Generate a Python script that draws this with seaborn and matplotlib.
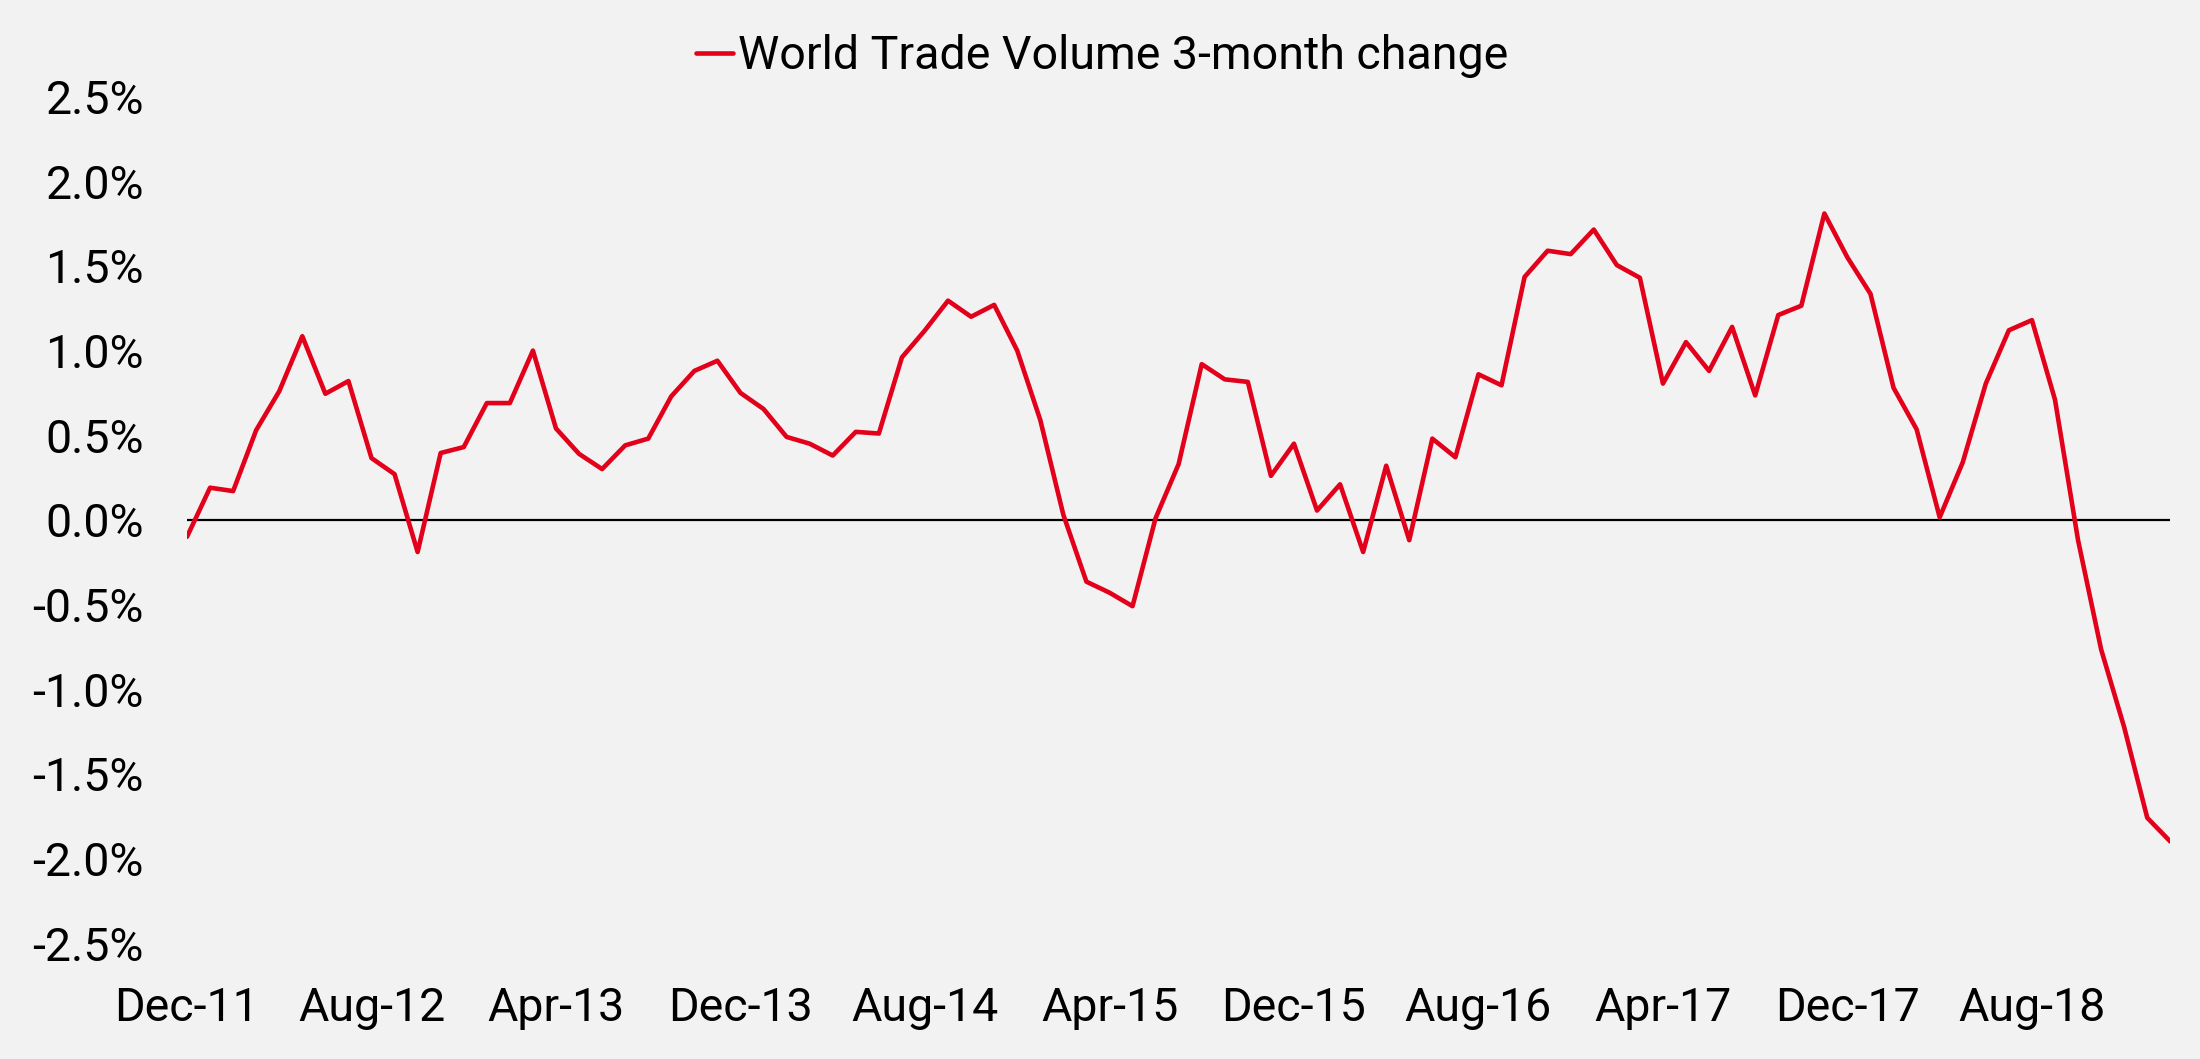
import numpy as np
import pandas as pd
import matplotlib.pyplot as plt
import seaborn as sns

# monthly series, Dec-11 .. Feb-19 (values in %)
months = pd.date_range("2011-12-01", periods=87, freq="MS")
change = [
    -0.10, 0.19, 0.17, 0.53, 0.76, 1.085, 0.745, 0.82, 0.365, 0.27,
    -0.19, 0.395, 0.43, 0.69, 0.69, 1.00, 0.54, 0.39, 0.30, 0.44,
    0.48, 0.73, 0.88, 0.94, 0.75, 0.655, 0.49, 0.45, 0.38, 0.52,
    0.51, 0.96, 1.12, 1.295, 1.20, 1.27, 1.00, 0.59, 0.03, -0.365,
    -0.43, -0.51, 0.01, 0.33, 0.92, 0.83, 0.815, 0.26, 0.45, 0.055,
    0.21, -0.19, 0.32, -0.12, 0.48, 0.37, 0.86, 0.795, 1.435, 1.59,
    1.57, 1.715, 1.505, 1.43, 0.805, 1.05, 0.88, 1.14, 0.735, 1.21,
    1.265, 1.81, 1.55, 1.335, 0.78, 0.535, 0.015, 0.34, 0.805, 1.12,
    1.18, 0.71, -0.12, -0.765, -1.225, -1.76, -1.90,
]
tick_labels = ["Dec-11", "Aug-12", "Apr-13", "Dec-13", "Aug-14", "Apr-15",
               "Dec-15", "Aug-16", "Apr-17", "Dec-17", "Aug-18"]
y_ticks = [-2.5, -2.0, -1.5, -1.0, -0.5, 0.0, 0.5, 1.0, 1.5, 2.0, 2.5]

df = pd.DataFrame({"idx": np.arange(len(months)), "month": months, "change": change})

sns.set_style("white")
plt.rcParams["font.family"] = ["Roboto", "DejaVu Sans"]
plt.rcParams["text.color"] = "black"
bg = "#f2f2f2"
fs = 33.5

fig = plt.figure(figsize=(22, 10.59), dpi=100, facecolor=bg)
ax = fig.add_axes([0.085, 0.1095, 0.9015, 0.7992])
ax.set_facecolor(bg)

sns.lineplot(data=df, x="idx", y="change", color="#e2001a", linewidth=3.3,
             label="World Trade Volume 3-month change", ax=ax)
ax.axhline(0, color="black", linewidth=1.6, zorder=1)

ax.set_xlim(0, len(months) - 1)
ax.set_ylim(-2.5, 2.5)
ax.set_xticks(df["idx"][::8])
ax.set_xticklabels(tick_labels)
ax.set_yticks(y_ticks)
ax.set_yticklabels([f"{v:.1f}%" for v in y_ticks])
ax.tick_params(axis="both", length=0, labelsize=fs, colors="black")
ax.tick_params(axis="y", pad=31)
ax.tick_params(axis="x", pad=31)
ax.set_xlabel("")
ax.set_ylabel("")
for s in ax.spines.values():
    s.set_visible(False)

ax.legend_.remove()
fig.legend(loc="center", bbox_to_anchor=(0.501, 0.947), frameon=False,
           fontsize=fs, handlelength=0.8, handletextpad=0.1, labelcolor="black")

fig.savefig("out.png", dpi=100, facecolor=bg)
